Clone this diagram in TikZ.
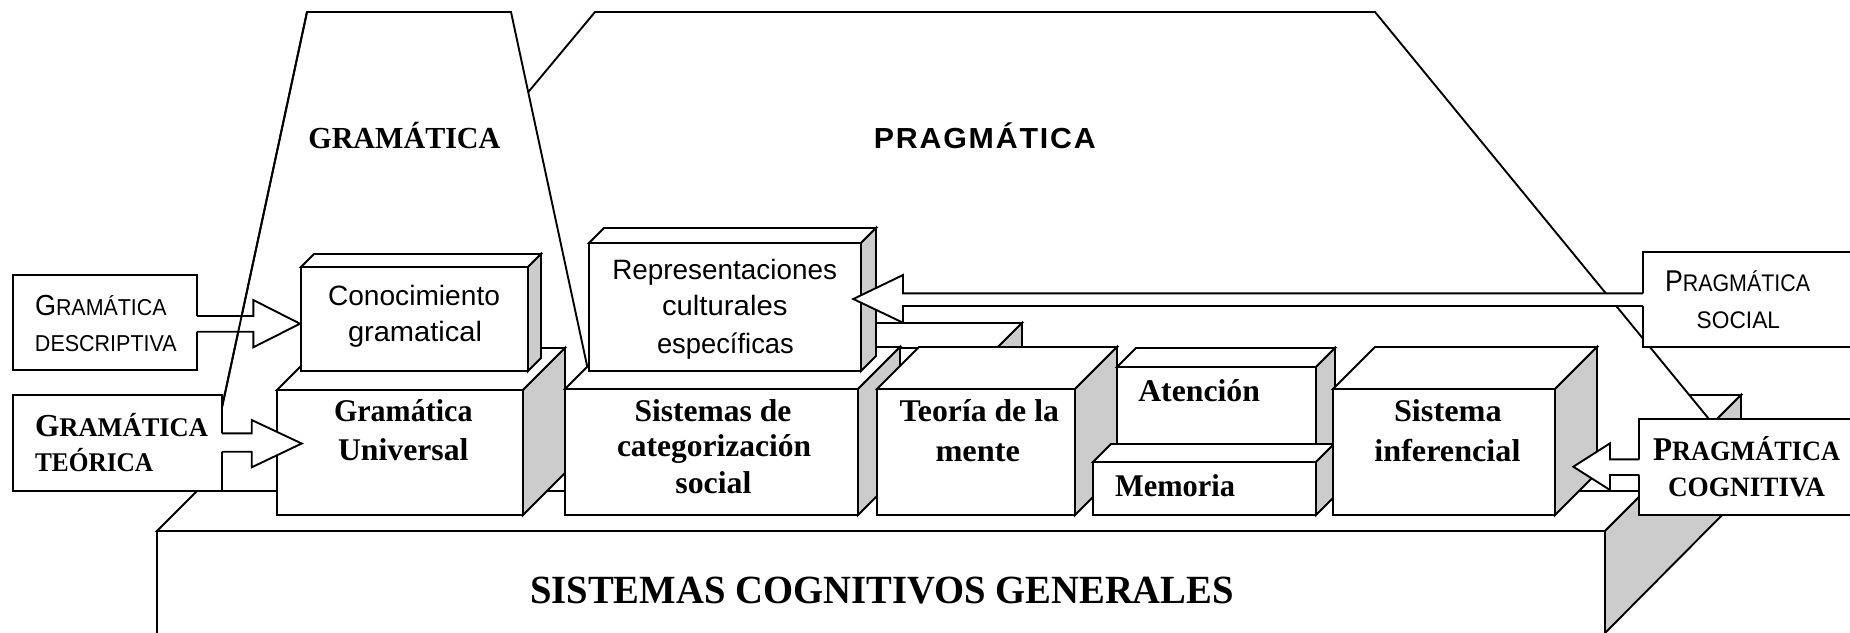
\documentclass[tikz,border=0pt]{standalone}
\usepackage{graphicx}
\usepackage{fontspec}
\setmainfont{Liberation Serif}
\newfontfamily\sansf{Liberation Sans}
\newfontfamily\sansspaced[LetterSpace=6]{Liberation Sans}
\definecolor{face}{RGB}{204,204,204}
\setlength{\unitlength}{0.5pt}
\newcommand\fw[2]{\resizebox{#1\unitlength}{\height}{#2}}
\newcommand\fs[1]{\fontsize{#1}{#1}\selectfont}
\newcommand\cubebox[6]{%
 \draw[facefront] (#2,#3) -- (#2+#6,#3-#6) -- (#4+#6,#3-#6) -- (#4,#3) -- cycle;
 \draw[faceside] (#4,#3) -- (#4+#6,#3-#6) -- (#4+#6,#5-#6) -- (#4,#5) -- cycle;
 \draw[facefront] (#2,#3) rectangle (#4,#5);
 \coordinate (#1) at ({(#2+#4)/2},{(#3+#5)/2});}
\begin{document}
\begin{tikzpicture}[x=0.5pt,y=-0.5pt,
  stroke/.style={line width=0.95pt, line join=miter},
  facefront/.style={stroke, fill=white},
  faceside/.style={stroke, fill=face},
  lbl/.style={inner sep=0pt, outer sep=0pt, anchor=base west}]
\useasboundingbox (0,0) rectangle (1850,632);
% base: sistemas cognitivos generales
\draw[facefront] (157,531) -- (293,395) -- (1741,395) -- (1605,531) -- cycle;
\draw[faceside] (1605,531) -- (1741,395) -- (1741,496) -- (1605,633) -- cycle;
\draw[facefront] (157,531) rectangle (1605,645);
% pragmatica and gramatica regions
\draw[facefront] (595,12) -- (1375,12) -- (1768,491) -- (196,491) -- cycle;
\draw[facefront] (307,12) -- (511,12) -- (614,491) -- (204,491) -- cycle;
% boxes
\cubebox{hb}{640}{348}{997}{480}{25}
\cubebox{gu}{277}{390}{523}{515}{42}
\cubebox{scs}{565}{389}{858}{515}{42}
\cubebox{tm}{877}{389}{1075}{515}{42}
\cubebox{at}{1117}{367}{1316}{495}{19}
\cubebox{me}{1093}{462}{1316}{515}{18}
\cubebox{si}{1333}{389}{1555}{515}{42}
\cubebox{cg}{301}{267}{528}{371}{13}
\cubebox{rc}{589}{243}{861}{371}{15}
% gramatica descriptiva
\draw[facefront] (13,275) rectangle (197,370);
\fill[white] (195.6,316) -- (253.3,316) -- (253.3,300) -- (300,323.7) -- (253.3,347.3) -- (253.3,331.7) -- (195.6,331.7) -- cycle;
\draw[stroke] (197,316) -- (253.3,316) -- (253.3,300) -- (300,323.7) -- (253.3,347.3) -- (253.3,331.7) -- (197,331.7);
\draw[stroke] (307,12) -- (204,491);
% gramatica teorica
\draw[facefront] (13,395) rectangle (222,491);
\fill[white] (220.6,433.3) -- (251.7,433.3) -- (251.7,420) -- (301.7,443.5) -- (251.7,467.3) -- (251.7,451.7) -- (220.6,451.7) -- cycle;
\draw[stroke] (222,433.3) -- (251.7,433.3) -- (251.7,420) -- (301.7,443.5) -- (251.7,467.3) -- (251.7,451.7) -- (222,451.7);
% pragmatica social
\draw[facefront] (1643,251.7) rectangle (1870,346.7);
\fill[white] (1644.4,293.3) -- (903,293.3) -- (903,275) -- (853.3,299) -- (903,322.7) -- (903,306) -- (1644.4,306) -- cycle;
\draw[stroke] (1643,293.3) -- (903,293.3) -- (903,275) -- (853.3,299) -- (903,322.7) -- (903,306) -- (1643,306);
% pragmatica cognitiva
\draw[facefront] (1639.3,419.3) rectangle (1870,515);
\fill[white] (1640.7,459.3) -- (1610,459.3) -- (1610,443.3) -- (1573.3,466.7) -- (1610,490) -- (1610,475) -- (1640.7,475) -- cycle;
\draw[stroke] (1639.3,459.3) -- (1610,459.3) -- (1610,443.3) -- (1573.3,466.7) -- (1610,490) -- (1610,475) -- (1639.3,475);
% texts
\node[lbl] (tgram) at (308.4,148.3) {\fw{192}{\bfseries\fs{15.3}GRAMÁTICA}};
\node[lbl] (tprag) at (873.8,148.3) {\fw{222}{\sansspaced\bfseries\fs{14.5}PRAGMÁTICA}};
\node[lbl] (tscg) at (530,603.3) {\fw{704}{\bfseries\fs{20}SISTEMAS COGNITIVOS GENERALES}};
\node[lbl] (gd1) at (35,315) {\fw{131.7}{\sansf\fs{14.5}G\fs{11.5}RAMÁTICA}};
\node[lbl] (gd2) at (35,351.7) {\fw{141.7}{\sansf\fs{11.5}DESCRIPTIVA}};
\node[lbl] (cg1) at (328,305) {\fw{172}{\sansf\fs{14}Conocimiento}};
\node[lbl] (cg2) at (348,341.7) {\fw{134}{\sansf\fs{14}gramatical}};
\node[lbl] (rc1) at (612.3,279.3) {\fw{224.7}{\sansf\fs{14}Representaciones}};
\node[lbl] (rc2) at (662,315) {\fw{125.5}{\sansf\fs{14}culturales}};
\node[lbl] (rc3) at (657,353.3) {\fw{136.8}{\sansf\fs{14}específicas}};
\node[lbl] (gt1) at (35,436.7) {\fw{173}{\bfseries\fs{16}G\fs{13.5}RAMÁTICA}};
\node[lbl] (gt2) at (35,471.7) {\fw{118.3}{\bfseries\fs{13.5}TEÓRICA}};
\node[lbl] (gu1) at (334,421.7) {\fw{138.5}{\bfseries\fs{15.8}Gramática}};
\node[lbl] (gu2) at (338,460) {\fw{130.5}{\bfseries\fs{15.8}Universal}};
\node[lbl] (scs1) at (634.6,421.7) {\fw{156.7}{\bfseries\fs{15.8}Sistemas de}};
\node[lbl] (scs2) at (617,456.7) {\fw{194}{\bfseries\fs{15.8}categorización}};
\node[lbl] (scs3) at (675.4,493.3) {\fw{76}{\bfseries\fs{15.8}social}};
\node[lbl] (tm1) at (899.7,421.7) {\fw{159.2}{\bfseries\fs{15.8}Teoría de la}};
\node[lbl] (tm2) at (935.5,461.7) {\fw{84.5}{\bfseries\fs{15.8}mente}};
\node[lbl] (at1) at (1138.3,401.7) {\fw{121.7}{\bfseries\fs{15.8}Atención}};
\node[lbl] (me1) at (1115,496.7) {\fw{120}{\bfseries\fs{15.8}Memoria}};
\node[lbl] (si1) at (1394,421.7) {\fw{107.7}{\bfseries\fs{15.8}Sistema}};
\node[lbl] (si2) at (1374.4,461.7) {\fw{146}{\bfseries\fs{15.8}inferencial}};
\node[lbl] (ps1) at (1665,291.7) {\fw{145}{\sansf\fs{15}P\fs{12}RAGMÁTICA}};
\node[lbl] (ps2) at (1696.7,328.3) {\fw{83.3}{\sansf\fs{12}SOCIAL}};
\node[lbl] (pc1) at (1653,460) {\fw{187}{\bfseries\fs{16.6}P\fs{14}RAGMÁTICA}};
\node[lbl] (pc2) at (1668,496.7) {\fw{157}{\bfseries\fs{14}COGNITIVA}};
\end{tikzpicture}
\end{document}
